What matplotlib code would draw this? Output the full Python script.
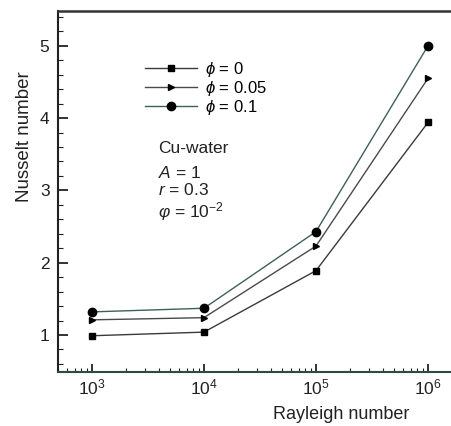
import numpy as np
import matplotlib
matplotlib.use("Agg")
import matplotlib.pyplot as plt
from matplotlib.ticker import MultipleLocator, LogLocator, NullFormatter

plt.rcParams['font.family'] = ['Liberation Sans', 'DejaVu Sans']
plt.rcParams['mathtext.fontset'] = 'custom'
plt.rcParams['mathtext.rm'] = 'Liberation Sans'
plt.rcParams['mathtext.it'] = 'Liberation Sans:italic'

# data
rayleigh = [1e3, 1e4, 1e5, 1e6]
nu_phi0 = [0.99, 1.04, 1.89, 3.94]
nu_phi005 = [1.21, 1.24, 2.23, 4.55]
nu_phi01 = [1.32, 1.37, 2.43, 5.00]
labels = [r'$\phi$ = 0', r'$\phi$ = 0.05', r'$\phi$ = 0.1']

fig = plt.figure(figsize=(4.52, 4.26), dpi=100)
ax = fig.add_axes([0.128, 0.127, 0.872, 0.847])

ax.plot(rayleigh, nu_phi0, color='#3a3a3a', lw=1.0, marker='s', ms=4,
        mfc='black', mec='black', label=labels[0])
ax.plot(rayleigh, nu_phi005, color='#4a4a4a', lw=1.0, marker='>', ms=4.5,
        mfc='black', mec='black', label=labels[1])
ax.plot(rayleigh, nu_phi01, color='#3f5f5c', lw=1.0, marker='o', ms=6,
        mfc='black', mec='black', label=labels[2])

ax.set_xscale('log')
ax.set_xlim(496.6, 1.637e6)
ax.set_ylim(0.49, 5.48)

ax.xaxis.set_major_locator(LogLocator(base=10, numticks=10))
ax.xaxis.set_minor_locator(LogLocator(base=10, subs=np.arange(2, 10), numticks=20))
ax.xaxis.set_minor_formatter(NullFormatter())
ax.yaxis.set_major_locator(MultipleLocator(1))
ax.yaxis.set_minor_locator(MultipleLocator(0.2))

ax.tick_params(which='both', direction='in', top=False, right=False,
               labelsize=12.5, colors='#222222')
ax.tick_params(axis='y', which='major', length=7, width=1.3, pad=6)
ax.tick_params(axis='y', which='minor', length=3.5, width=0.8)
ax.tick_params(axis='x', which='major', length=6, width=1.3, pad=4)
ax.tick_params(axis='x', which='minor', length=3, width=0.8)

ax.spines['right'].set_visible(False)
ax.spines['top'].set_linewidth(1.8)
ax.spines['top'].set_color('#333333')
ax.spines['left'].set_linewidth(1.5)
ax.spines['left'].set_color('#222222')
ax.spines['bottom'].set_linewidth(1.5)
ax.spines['bottom'].set_color('#2e4a48')

ax.set_xlabel('Rayleigh number', fontsize=13, color='#222222')
ax.set_ylabel('Nusselt number', fontsize=13.5, color='#222222')
ax.xaxis.set_label_coords(0.718, -0.095)
ax.yaxis.set_label_coords(-0.063, 0.651)

ax.legend(loc='upper left', bbox_to_anchor=(0.205, 0.882), frameon=False,
          fontsize=12, handlelength=3.1, handletextpad=0.5,
          labelspacing=0.0, borderaxespad=0)

# annotation block
ax.text(0.254, 0.62, 'Cu-water', transform=ax.transAxes, fontsize=12.5,
        va='center', color='#222222')
ax.text(0.254, 0.552, '$A$ = 1', transform=ax.transAxes, fontsize=12.5,
        va='center', color='#222222')
ax.text(0.254, 0.503, '$r$ = 0.3', transform=ax.transAxes, fontsize=12.5,
        va='center', color='#222222')
ax.text(0.254, 0.444, r'$\varphi$ = 10$^{-2}$', transform=ax.transAxes,
        fontsize=12.5, va='center', color='#222222')

fig.savefig('out.png', dpi=100)
